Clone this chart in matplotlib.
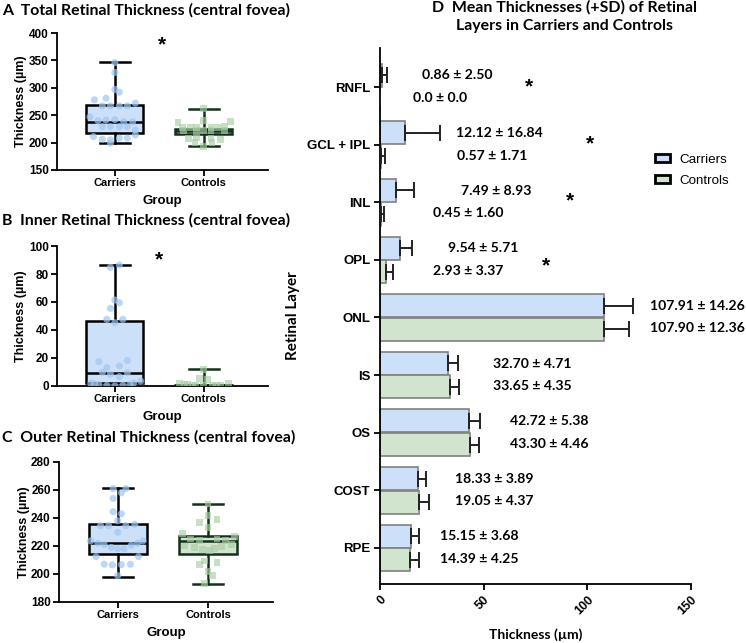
import matplotlib
matplotlib.use("Agg")
import matplotlib.pyplot as plt
from matplotlib.patches import Patch
import numpy as np

# ---------------- DATA ----------------
groups = ["Carriers", "Controls"]

# Panel A: total retinal thickness (box stats: whislo, q1, med, q3, whishi)
a_car_stats = [200, 218, 237, 268, 347]
a_con_stats = [193, 215, 221, 225, 261]
a_car_pts = [346, 328, 297, 292, 278, 281, 267, 267, 267, 267, 272, 247, 240, 241,
             242, 238, 238, 229, 229, 229, 229, 223, 211, 206, 205, 208, 208, 214, 199]
a_car_jit = [0.0, 0.0, 0.0, 0.05, -0.23, -0.10, -0.14, -0.05, 0.05, 0.14, 0.23, -0.28, -0.19, -0.10,
             0.0, 0.10, 0.20, -0.14, -0.05, 0.05, 0.14, 0.23, -0.24, -0.14, -0.05, 0.05, 0.14, 0.23, -0.05]
a_con_pts = [262, 241, 238, 237, 228, 228, 227, 227, 228, 229, 222, 222, 222, 222, 222,
             208, 209, 208, 206, 200, 200, 193]
a_con_jit = [0.0, 0.0, 0.30, -0.29, -0.24, -0.15, -0.08, 0.08, 0.15, 0.23, -0.23, -0.08, 0.0, 0.08, 0.23,
             -0.17, -0.08, 0.08, 0.19, -0.10, 0.09, 0.0]

# Panel B: inner retinal thickness
b_car_stats = [0, 1.9, 9, 46.4, 86.4]
b_con_stats = [0, 0.3, 0.6, 1.0, 11.9]
b_car_pts = [84.8, 86.4, 61.4, 59.5, 55.5, 47.6, 47.6, 45.2, 17.4, 18.2, 13.1, 14.3, 9.8, 9.5, 8.3, 6.7,
             2.0, 1.0, 0.3, 0.1, 0.5, 2.0, 3.5, 1.5, 0.8]
b_car_jit = [-0.05, 0.05, 0.0, 0.05, -0.05, -0.09, 0.09, 0.0, -0.18, 0.14, -0.09, 0.05, -0.14, 0.14,
             -0.05, 0.05, -0.27, -0.18, -0.09, 0.0, 0.09, 0.21, 0.29, -0.23, 0.17]
b_con_pts = [12.0, 5.5, 4.8, 1.8, 0.8, 0.2, 0.5, 0.6, 1.8, 0.3, 0.1, 0.2, 0.9]
b_con_jit = [0.0, -0.05, 0.04, -0.27, -0.18, -0.09, 0.10, 0.19, 0.28, -0.13, 0.0, 0.14, -0.22]

# Panel C: outer retinal thickness
c_car_stats = [198, 214.3, 222.4, 235.7, 261.2]
c_con_stats = [193, 214.3, 223.6, 227.1, 249.8]
c_car_pts = [261, 261, 258, 254, 244.5, 243, 238, 234.5, 234.5, 234.5, 235.5, 229.8, 223.6, 223.6,
             222, 221, 219, 218, 218, 220.5, 222, 212.4, 212.4, 207, 206.5, 206.7, 207, 198.8]
c_car_jit = [-0.05, 0.09, 0.04, -0.05, -0.05, 0.04, 0.0, -0.19, -0.10, 0.09, 0.19, 0.0, -0.30, 0.28,
             -0.22, -0.15, -0.07, 0.0, 0.07, 0.15, 0.22, -0.24, 0.23, -0.15, -0.06, 0.04, 0.14, 0.0]
c_con_pts = [250, 242, 236.7, 239, 233, 229, 227, 225, 224, 225, 224, 220, 219, 217.5, 216.5, 218,
             219.5, 221, 209.3, 208, 207, 202, 199, 193]
c_con_jit = [0.0, 0.0, -0.09, 0.10, 0.0, -0.28, 0.29, -0.19, -0.09, 0.10, 0.19, -0.26, -0.15, -0.06,
             0.02, 0.07, 0.15, 0.26, -0.04, 0.10, -0.09, 0.0, 0.05, -0.04]

# Panel D: mean thickness of retinal layers
layers = ["RNFL", "GCL + IPL", "INL", "OPL", "ONL", "IS", "OS", "COST", "RPE"]
car_mean = [0.86, 12.12, 7.49, 9.54, 107.91, 32.70, 42.72, 18.33, 15.15]
car_sd = [2.50, 16.84, 8.93, 5.71, 14.26, 4.71, 5.38, 3.89, 3.68]
con_mean = [0.0, 0.57, 0.45, 2.93, 107.90, 33.65, 43.30, 19.05, 14.39]
con_sd = [0.0, 1.71, 1.60, 3.37, 12.36, 4.35, 4.46, 4.37, 4.25]
car_text = ["0.86 ± 2.50", "12.12 ± 16.84", "7.49 ± 8.93", "9.54 ± 5.71", "107.91 ± 14.26",
            "32.70 ± 4.71", "42.72 ± 5.38", "18.33 ± 3.89", "15.15 ± 3.68"]
con_text = ["0.0 ± 0.0", "0.57 ± 1.71", "0.45 ± 1.60", "2.93 ± 3.37", "107.90 ± 12.36",
            "33.65 ± 4.35", "43.30 ± 4.46", "19.05 ± 4.37", "14.39 ± 4.25"]
significant = [True, True, True, True, False, False, False, False, False]

# ---------------- STYLE ----------------
CAR_FILL = "#cce0f9"
CON_FILL = "#d1e4ce"
CAR_PT = "#9fc6f2"
CON_PT = "#a9cea3"
CON_LINE = "#12301a"
TFONT = "Lato"
AFONT = "Liberation Sans"

fig = plt.figure(figsize=(7.46, 6.43), dpi=100)


def px_axes(l, t, r, b):
    W, H = 746, 643
    return fig.add_axes([l / W, 1 - b / H, (r - l) / W, (b - t) / H])


def box_panel(ax, car_stats, con_stats, car_pts, car_jit, con_pts, con_jit, ylim, yticks, title, title_y, star_xy):
    stats = []
    for i, s in enumerate([car_stats, con_stats]):
        stats.append(dict(whislo=s[0], q1=s[1], med=s[2], q3=s[3], whishi=s[4], fliers=[], label=groups[i]))
    colors = [CAR_FILL, CON_FILL]
    lcols = ["black", CON_LINE]
    for i in range(2):
        ax.bxp([stats[i]], positions=[i + 1], widths=0.64, patch_artist=True, showfliers=False,
               boxprops=dict(facecolor=colors[i], edgecolor=lcols[i], linewidth=1.8),
               medianprops=dict(color=lcols[i], linewidth=1.8),
               whiskerprops=dict(color=lcols[i], linewidth=1.8),
               capprops=dict(color=lcols[i], linewidth=1.8), capwidths=0.33, zorder=2)
    ax.scatter(1 + np.array(car_jit), car_pts, s=26, marker="o", color=CAR_PT, alpha=0.7,
               edgecolors="none", zorder=3)
    ax.scatter(2 + np.array(con_jit), con_pts, s=24, marker="s", color=CON_PT, alpha=0.65,
               edgecolors="none", zorder=3)
    ax.set_xlim(0.35, 2.72)
    ax.set_ylim(*ylim)
    ax.set_yticks(yticks)
    ax.set_xticks([1, 2])
    ax.set_xticklabels(groups, fontfamily=AFONT, fontweight="bold", fontsize=8)
    for lab in ax.get_yticklabels():
        lab.set_fontfamily(AFONT)
        lab.set_fontweight("bold")
        lab.set_fontsize(8.5)
    ax.spines["top"].set_visible(False)
    ax.spines["right"].set_visible(False)
    for sp in ["left", "bottom"]:
        ax.spines[sp].set_linewidth(1.3)
    ax.tick_params(width=1.3, length=4, pad=2)
    ax.set_ylabel("Thickness (µm)", fontfamily=AFONT, fontweight="bold", fontsize=9, labelpad=1)
    ax.set_xlabel("Group", fontfamily=AFONT, fontweight="bold", fontsize=9.5, labelpad=5)
    fig.text(2 / 746, 1 - title_y / 643, title, fontfamily=TFONT, fontweight="bold", fontsize=11.4,
             va="center", ha="left")
    if star_xy is not None:
        ax.text(star_xy[0], star_xy[1], "*", fontfamily=AFONT, fontweight="bold", fontsize=15,
                ha="center", va="center")


axA = px_axes(57, 33, 268, 170)
box_panel(axA, a_car_stats, a_con_stats, a_car_pts, a_car_jit, a_con_pts, a_con_jit,
          (150, 400), np.arange(150, 401, 50), "A  Total Retinal Thickness (central fovea)", 10, (1.53, 378))

axB = px_axes(57, 246, 268, 386)
box_panel(axB, b_car_stats, b_con_stats, b_car_pts, b_car_jit, b_con_pts, b_con_jit,
          (0, 100), np.arange(0, 101, 20), "B  Inner Retinal Thickness (central fovea)", 220, (1.5, 90))

axC = px_axes(59, 462, 273, 602)
box_panel(axC, c_car_stats, c_con_stats, c_car_pts, c_car_jit, c_con_pts, c_con_jit,
          (180, 280), np.arange(180, 281, 20), "C  Outer Retinal Thickness (central fovea)", 437, None)

# ---------------- Panel D ----------------
axD = px_axes(380, 48, 691, 584)
y = np.arange(len(layers))
off = 0.205
h = 0.40
axD.barh(y - off, car_mean, height=h, color=CAR_FILL, edgecolor="#808080", linewidth=1.2, zorder=2,
         label="Carriers")
axD.barh(y + off, con_mean, height=h, color=CON_FILL, edgecolor="#808080", linewidth=1.2, zorder=2,
         label="Controls")
for i in range(len(layers)):
    for m, s, yy in [(car_mean[i], car_sd[i], y[i] - off), (con_mean[i], con_sd[i], y[i] + off)]:
        axD.errorbar([m], [yy], xerr=[[0], [s]], fmt="none", ecolor="#222222", elinewidth=1.4,
                     capsize=5.5, capthick=1.4, zorder=3)

car_tx = [20.3, 36.7, 39.0, 32.8, 130.3, 54.5, 62.7, 36.2, 28.9]
con_tx = [16.0, 37.2, 25.6, 25.6, 130.3, 54.5, 62.7, 36.2, 28.9]
star_x = [71.9, 101.3, 91.7, 80.1]
star_y = [-0.02, -0.04, -0.04, 0.08]
for i in range(len(layers)):
    axD.text(car_tx[i], y[i] - 0.2, car_text[i], fontfamily=TFONT, fontweight="bold", fontsize=10.1,
             ha="left", va="center")
    axD.text(con_tx[i], y[i] + 0.19, con_text[i], fontfamily=TFONT, fontweight="bold", fontsize=10.1,
             ha="left", va="center")
k = 0
for i in range(len(layers)):
    if significant[i]:
        axD.text(star_x[k], y[i] + star_y[k] + 0.02, "*", fontfamily=AFONT, fontweight="bold",
                 fontsize=15, ha="center", va="center")
        k += 1

axD.set_xlim(0, 150)
axD.set_ylim(8.625, -0.677)
axD.set_yticks(y)
axD.set_yticklabels(layers, fontfamily=AFONT, fontweight="bold", fontsize=9.5)
axD.set_xticks([0, 50, 100, 150])
axD.set_xticklabels(["0", "50", "100", "150"], fontfamily=AFONT, fontweight="bold", fontsize=9,
                    rotation=45, ha="right", rotation_mode="anchor")
axD.spines["top"].set_visible(False)
axD.spines["right"].set_visible(False)
for sp in ["left", "bottom"]:
    axD.spines[sp].set_linewidth(1.3)
axD.tick_params(width=1.3, length=4, pad=3)
axD.set_xlabel("Thickness (µm)", fontfamily=TFONT, fontweight="bold", fontsize=10, labelpad=8)
axD.set_ylabel("Retinal Layer", fontfamily=TFONT, fontweight="bold", fontsize=11)
axD.yaxis.set_label_coords(-0.257, 0.5)
fig.text(565 / 746, 1 - 17 / 643, "D  Mean Thicknesses (+SD) of Retinal\nLayers in Carriers and Controls",
         fontfamily=TFONT, fontweight="bold", fontsize=11.4, ha="center", va="center", linespacing=1.4)

handles = [Patch(facecolor=CAR_FILL, edgecolor="black", linewidth=2.0, label="Carriers"),
           Patch(facecolor=CON_FILL, edgecolor="black", linewidth=2.0, label="Controls")]
fig.legend(handles=handles, loc="upper left", bbox_to_anchor=(643 / 746, 1 - 142 / 643), frameon=False,
           prop=dict(family=AFONT, size=9.6), handlelength=1.1, handleheight=0.5, handletextpad=0.7,
           labelspacing=0.65)

fig.savefig("out.png", dpi=100)
